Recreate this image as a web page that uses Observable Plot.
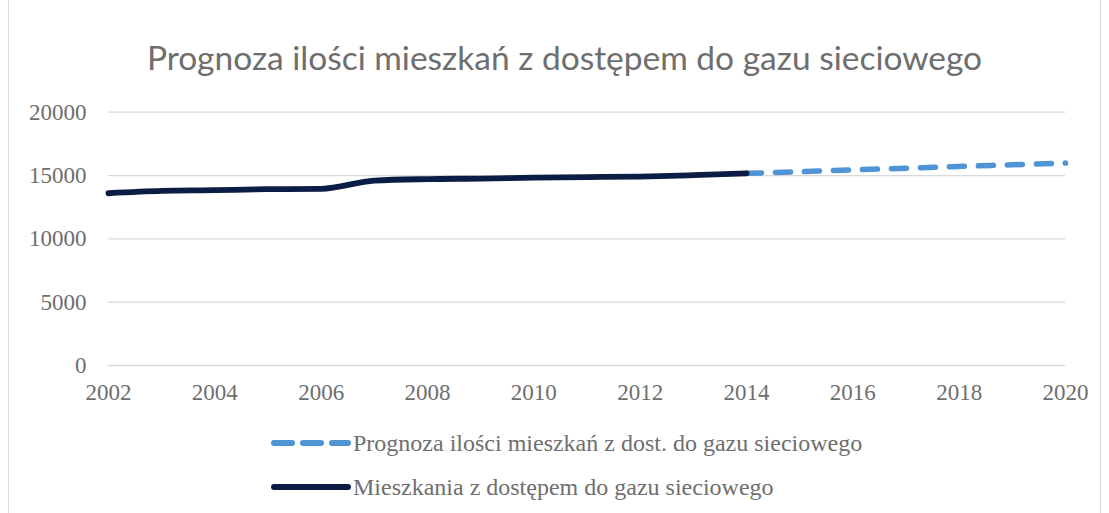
<!DOCTYPE html>
<html><head><meta charset="utf-8">
<script src="https://cdn.jsdelivr.net/npm/d3@7"></script>
<script src="https://cdn.jsdelivr.net/npm/@observablehq/plot@0.6"></script>
<style>
body{margin:0;background:#fff;}
#wrap{position:relative;width:1109px;height:513px;overflow:hidden;background:#fff;}
#frame{position:absolute;left:8px;top:-2px;width:1091px;height:530px;border:1px solid #d9d9d9;}
#title{position:absolute;left:10px;width:1109px;top:36px;text-align:center;font-family:Lato,"Noto Sans",sans-serif;font-size:33.5px;line-height:42px;color:#6e6e6e;}
#chart{position:absolute;left:0;top:90px;}
.leg{position:absolute;left:270px;font-family:"Liberation Serif","Times New Roman",serif;font-size:24px;line-height:26px;color:#6e6e6e;display:flex;align-items:center;white-space:nowrap;}
.leg svg{margin-right:1px;}
</style></head>
<body><div id="wrap"><div id="frame"></div><div id="title">Prognoza ilości mieszkań z dostępem do gazu sieciowego</div><div id="chart"></div>
<div class="leg" style="top:430px"><svg width="82" height="10"><line x1="4" x2="78" y1="5" y2="5" stroke="#4f94d4" stroke-width="6" stroke-linecap="round" stroke-dasharray="18,11"/></svg><span>Prognoza ilości mieszkań z dost. do gazu sieciowego</span></div>
<div class="leg" style="top:474px"><svg width="82" height="10"><line x1="4" x2="78" y1="5" y2="5" stroke="#0b1d45" stroke-width="6" stroke-linecap="round"/></svg><span>Mieszkania z dostępem do gazu sieciowego</span></div>
</div>
<script>
const histYears = [2002,2003,2004,2005,2006,2007,2008,2009,2010,2011,2012,2013,2014];
const histValues = [13600,13780,13840,13920,13950,14600,14720,14760,14830,14880,14920,15030,15170];
const fcYears = [2014,2015,2016,2017,2018,2019,2020];
const fcValues = [15170,15300,15450,15580,15720,15850,15980];
const xTicks = [2002,2004,2006,2008,2010,2012,2014,2016,2018,2020];
const yTicks = [0,5000,10000,15000,20000];

const hist = histYears.map((y,i)=>({year:y,value:histValues[i]}));
const fc = fcYears.map((y,i)=>({year:y,value:fcValues[i]}));

const serif = "'Liberation Serif', 'Times New Roman', serif";
const chart = Plot.plot({
  width:1109, height:330,
  marginTop:21.7, marginBottom:55, marginLeft:108, marginRight:44,
  style:{fontFamily:serif, fontSize:"23px", color:"#6e6e6e", background:"transparent", overflow:"visible"},
  x:{domain:[2002,2020]},
  y:{domain:[0,20000]},
  marks:[
    Plot.gridY(yTicks,{stroke:"#d9d9d9", strokeOpacity:1, strokeWidth:1.3}),
    Plot.axisY({ticks:yTicks, tickSize:0, tickPadding:22, label:null, fontSize:23, tickFormat:d=>String(d)}),
    Plot.axisX({ticks:xTicks, tickSize:0, tickPadding:18, label:null, fontSize:23, tickFormat:d=>String(d)}),
    Plot.line(fc,{x:"year", y:"value", stroke:"#4f94d4", strokeWidth:5.5, strokeDasharray:"15,14", strokeLinecap:"round", curve:"monotone-x"}),
    Plot.line(hist,{x:"year", y:"value", stroke:"#0b1d45", strokeWidth:5.8, strokeLinecap:"round", curve:"monotone-x"})
  ]
});
document.getElementById("chart").appendChild(chart);
</script>
</body></html>
